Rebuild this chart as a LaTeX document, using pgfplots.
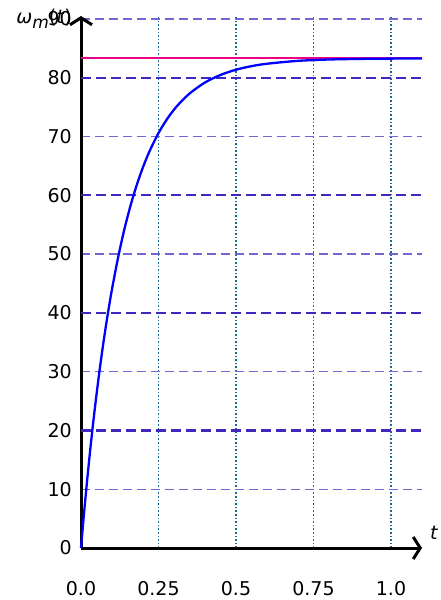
\documentclass[border=0pt]{standalone}
\usepackage{fontspec}
\setmainfont{DejaVu Sans}
\usepackage{pgfplots}
\pgfplotsset{compat=1.18}
\usetikzlibrary{arrows.meta}
\definecolor{majgrid}{RGB}{64,40,190}
\definecolor{mingrid}{RGB}{120,100,215}
\definecolor{vgrid}{RGB}{25,105,155}
\definecolor{pinkline}{RGB}{235,0,130}
\begin{document}
\begin{tikzpicture}
\useasboundingbox (0,0) rectangle (440pt,600pt);
\begin{axis}[
  at={(81pt,52pt)}, anchor=south west,
  scale only axis, width=341pt, height=532pt,
  xmin=0, xmax=1.1, ymin=0, ymax=90.5,
  axis lines=left,
  axis line style={line width=3pt},
  x axis line style={-{Straight Barb[length=7pt,width=22pt,line width=3pt]}},
  y axis line style={-{Straight Barb[length=7pt,width=22pt,line width=3pt]}},
  major tick length=0pt, minor tick length=0pt,
  xtick={0,0.25,0.5,0.75,1.0},
  xticklabels={0.0,0.25,0.5,0.75,1.0},
  ytick={0,10,20,30,40,50,60,70,80,90},
  yticklabels={0,10,20,30,40,50,60,70,80,90},
  xmajorgrids=true,
  major x grid style={vgrid, line width=1.6pt, dotted},
  minor ytick={10,30,50,70,90},
  yminorgrids=true,
  minor y grid style={mingrid, line width=1.3pt, dash pattern=on 9pt off 5pt},
  extra y ticks={20,40,60,80},
  extra y tick labels={},
  extra y tick style={ymajorgrids=true, major y grid style={majgrid, line width=2.3pt, dash pattern=on 10pt off 5pt}},
  ticklabel style={font=\fontsize{19}{22}\selectfont},
  xticklabel style={anchor=north, inner sep=0pt, yshift=-33pt},
  yticklabel style={anchor=east, inner sep=0pt, xshift=-9pt},
  clip=false,
]
\addplot[pinkline, line width=2.3pt] coordinates {(0,83.3) (1.1,83.3)};
\addplot[blue, line width=2.3pt, smooth] coordinates {
(0,0) (0.01,6.03) (0.02,11.63) (0.03,16.83) (0.04,21.64) (0.05,26.10)
(0.06,30.25) (0.07,34.09) (0.08,37.65) (0.09,40.96) (0.10,44.03)
(0.12,49.51) (0.14,54.23) (0.16,58.29) (0.18,61.78) (0.20,64.78)
(0.22,67.37) (0.25,70.59) (0.28,73.15) (0.31,75.20) (0.35,77.30)
(0.40,79.19) (0.45,80.47) (0.50,81.36) (0.55,81.97) (0.60,82.38)
(0.70,82.87) (0.80,83.10) (0.90,83.20) (1.00,83.25) (1.10,83.28)};
\node[anchor=east, inner sep=0pt, font=\fontsize{19}{22}\selectfont] at ([xshift=-9pt]axis cs:0,90) {\textit{ω}\raisebox{-0.3em}{\fontsize{17}{20}\selectfont\textit{m}}(\textit{t})};
\node[anchor=south west, inner sep=0pt, font=\fontsize{19}{22}\selectfont] at ([xshift=8pt,yshift=8pt]axis cs:1.1,0) {\textit{t}};
\end{axis}
\end{tikzpicture}
\end{document}
